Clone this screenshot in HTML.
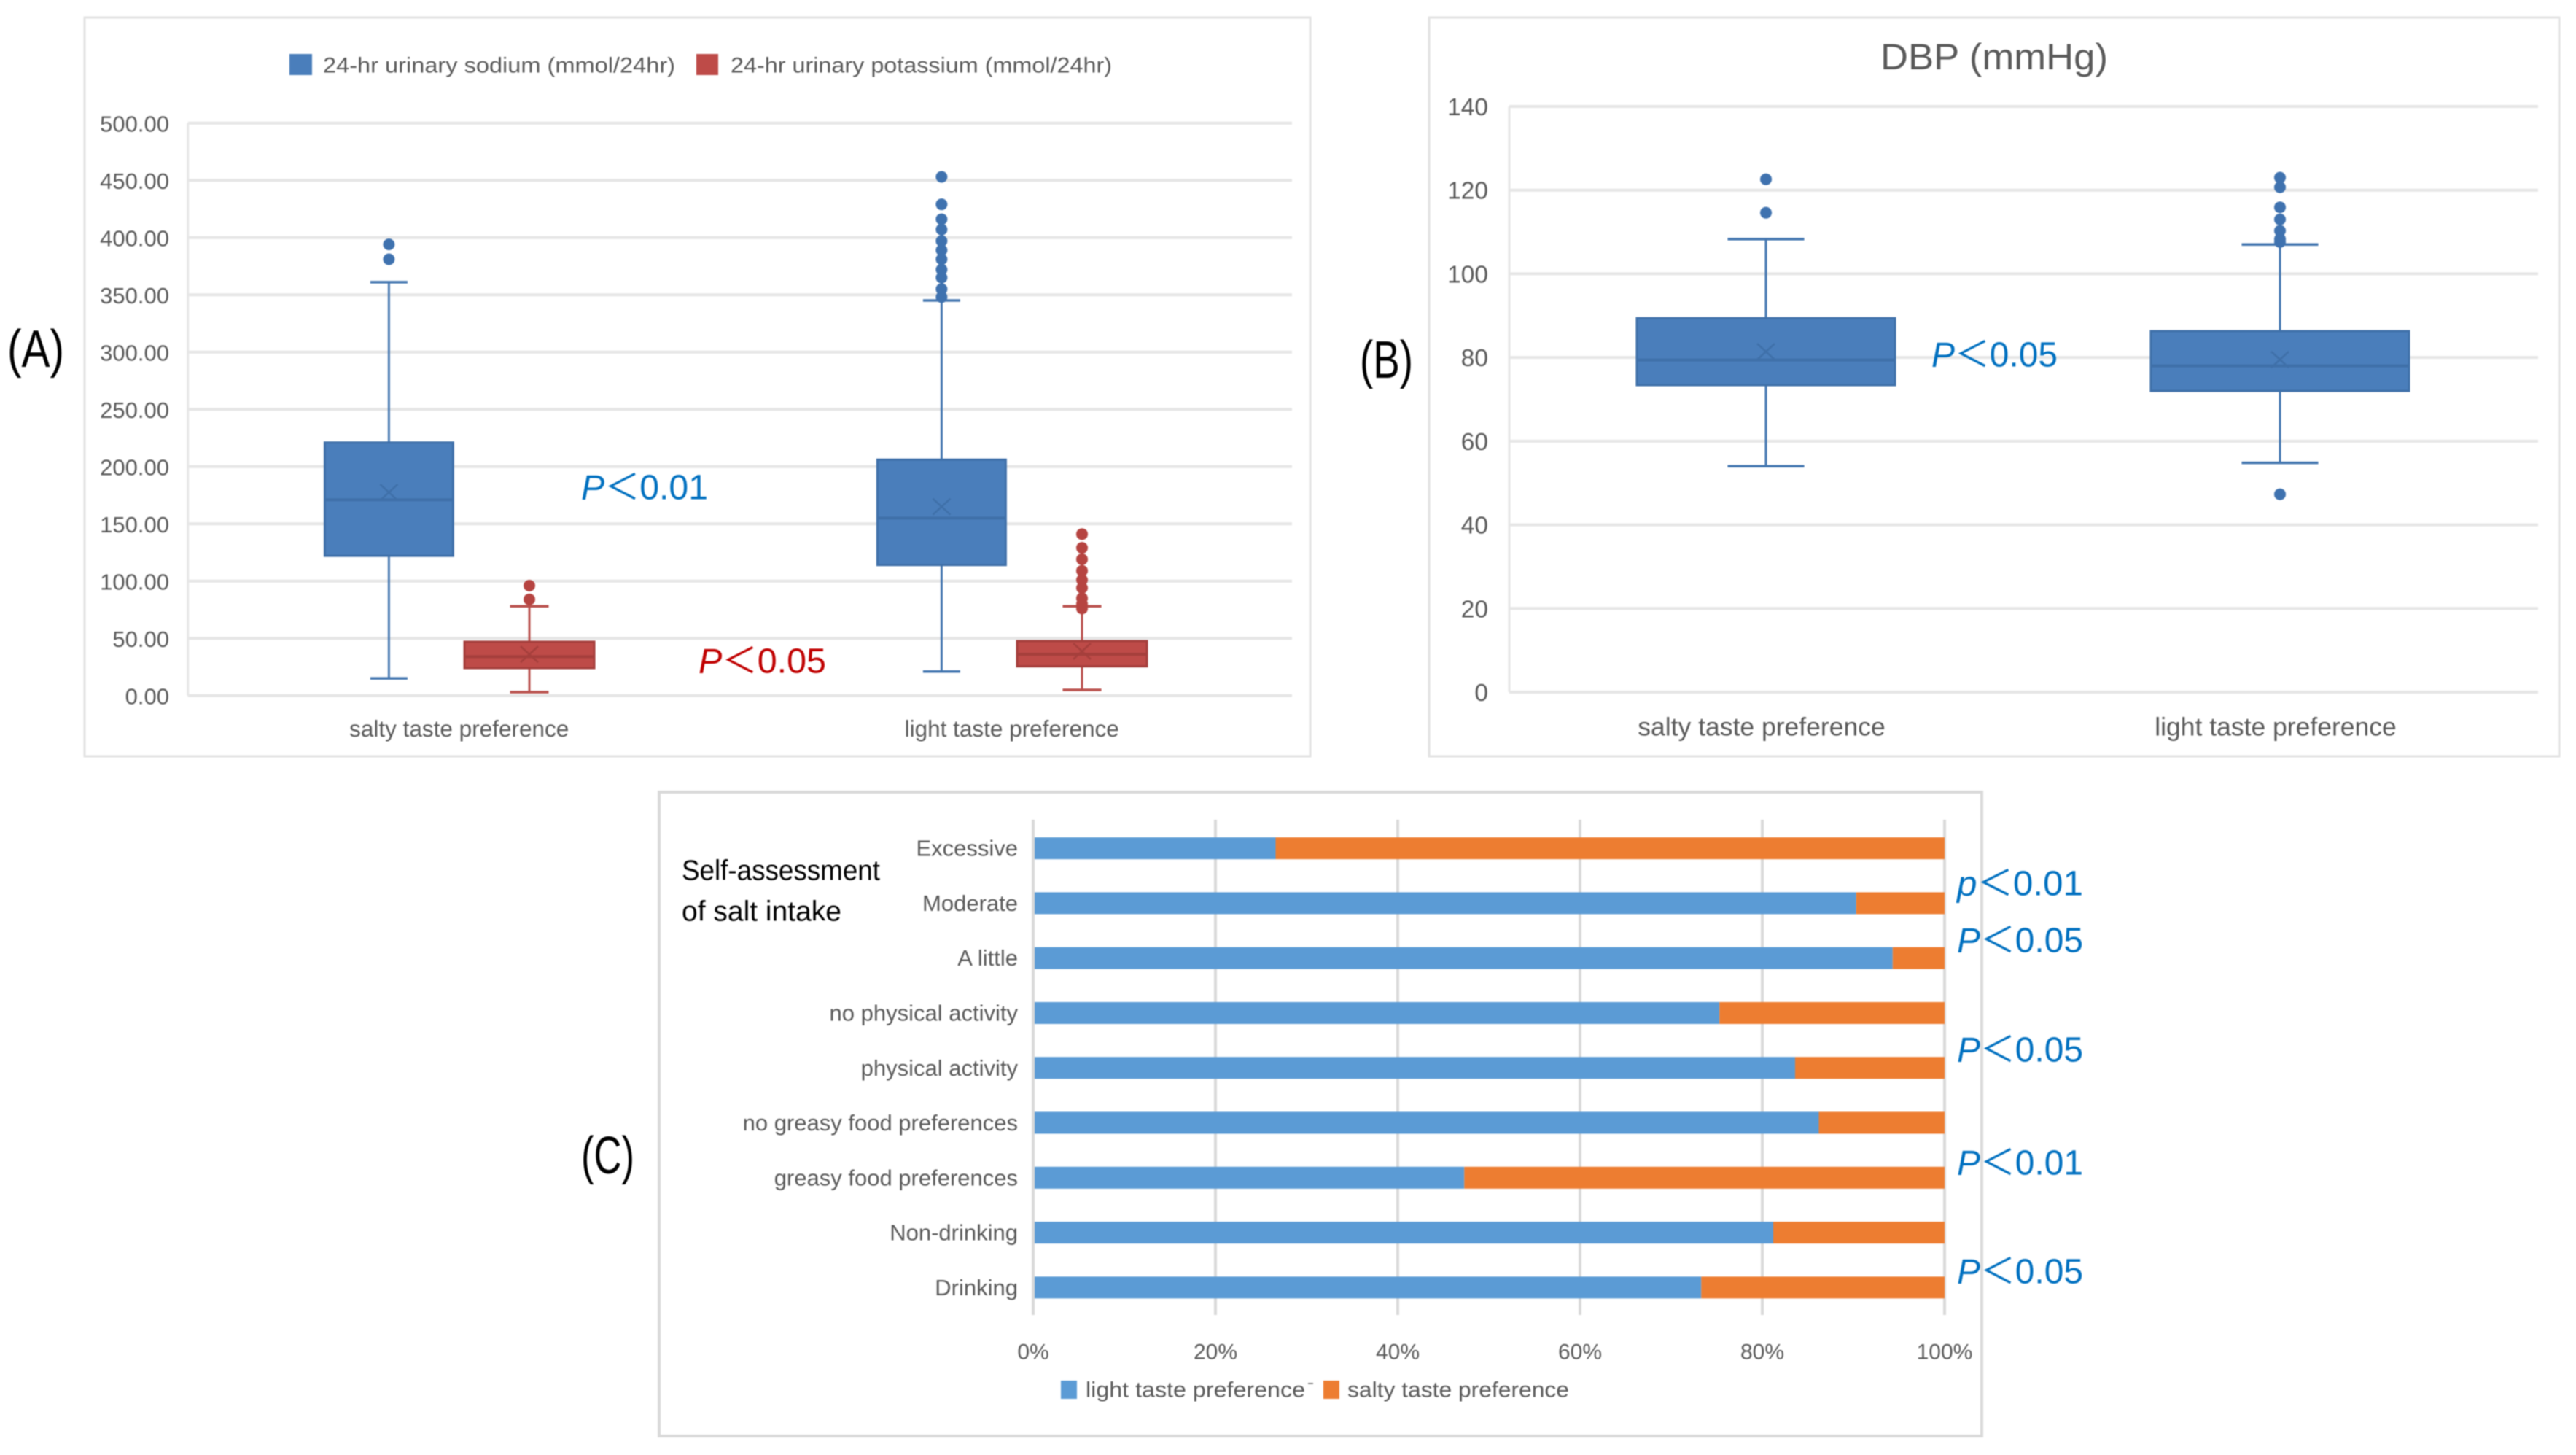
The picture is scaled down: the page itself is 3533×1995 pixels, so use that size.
<!DOCTYPE html>
<html lang="en">
<head>
<meta charset="utf-8">
<title>Taste preference charts</title>
<style>
html,body{margin:0;padding:0;background:#fff;width:3533px;height:1995px;overflow:hidden}
svg{display:block;filter:blur(0.8px)}
text{font-family:"Liberation Sans","Noto Sans CJK SC",sans-serif;fill:#595959}
.p{font-size:48px;dominant-baseline:central}
.pb{fill:#0070C0}
.pr{fill:#C00000}
.pan{font-size:72px;fill:#000;dominant-baseline:central}
.leg{font-size:30px;dominant-baseline:central}
</style>
</head>
<body>
<svg id="figure" xmlns="http://www.w3.org/2000/svg" width="3533" height="1995" viewBox="0 0 3533 1995">
  <rect x="116" y="24" width="1681" height="1013" fill="#fff" stroke="#e2e2e2" stroke-width="3"/>
  <rect x="1960" y="24" width="1550" height="1013" fill="#fff" stroke="#e2e2e2" stroke-width="3"/>
  <rect x="904" y="1086" width="1814" height="883" fill="#fff" stroke="#d9d9d9" stroke-width="4"/>
  <g id="chartA"></g>
  <g id="chartB"></g>
  <g id="chartC"></g>

  <text class="pan" x="10" y="479" textLength="78" lengthAdjust="spacingAndGlyphs">(A)</text>
  <text class="pan" x="1865" y="494" textLength="73" lengthAdjust="spacingAndGlyphs">(B)</text>
  <text class="pan" x="797" y="1585" textLength="73" lengthAdjust="spacingAndGlyphs">(C)</text>

  <rect x="397" y="74" width="31" height="29" fill="#4A7EBB"/>
  <text class="leg" x="443" y="90" textLength="483" lengthAdjust="spacingAndGlyphs">24-hr urinary sodium (mmol/24hr)</text>
  <rect x="955" y="74" width="30" height="29" fill="#BE4B48"/>
  <text class="leg" x="1002" y="90" textLength="523" lengthAdjust="spacingAndGlyphs">24-hr urinary potassium (mmol/24hr)</text>

  <text class="p pb" x="797" y="669" textLength="174" lengthAdjust="spacingAndGlyphs"><tspan font-style="italic">P</tspan>＜0.01</text>
  <text class="p pr" x="958" y="907" textLength="175" lengthAdjust="spacingAndGlyphs"><tspan font-style="italic">P</tspan>＜0.05</text>

  <text x="2579" y="78" font-size="50" dominant-baseline="central" textLength="312" lengthAdjust="spacingAndGlyphs">DBP (mmHg)</text>
  <text class="p pb" x="2649" y="487" textLength="173" lengthAdjust="spacingAndGlyphs"><tspan font-style="italic">P</tspan>＜0.05</text>

  <text x="935" y="1194" font-size="39" dominant-baseline="central" style="fill:#000" textLength="272" lengthAdjust="spacingAndGlyphs">Self-assessment</text>
  <text x="935" y="1250" font-size="39" dominant-baseline="central" style="fill:#000" textLength="219" lengthAdjust="spacingAndGlyphs">of salt intake</text>

  <rect x="1455" y="1893" width="22" height="25" fill="#5B9BD5"/>
  <text class="leg" x="1489" y="1906" textLength="301" lengthAdjust="spacingAndGlyphs">light taste preference</text>
  <rect x="1794" y="1896" width="7" height="2" fill="#8a8a8a"/>
  <rect x="1815" y="1893" width="22" height="25" fill="#ED7D31"/>
  <text class="leg" x="1848" y="1906" textLength="304" lengthAdjust="spacingAndGlyphs">salty taste preference</text>

  <text class="p pb" x="2684" y="1212" textLength="173" lengthAdjust="spacingAndGlyphs"><tspan font-style="italic">p</tspan>＜0.01</text>
  <text class="p pb" x="2684" y="1290" textLength="173" lengthAdjust="spacingAndGlyphs"><tspan font-style="italic">P</tspan>＜0.05</text>
  <text class="p pb" x="2684" y="1440" textLength="173" lengthAdjust="spacingAndGlyphs"><tspan font-style="italic">P</tspan>＜0.05</text>
  <text class="p pb" x="2684" y="1595" textLength="173" lengthAdjust="spacingAndGlyphs"><tspan font-style="italic">P</tspan>＜0.01</text>
  <text class="p pb" x="2684" y="1744" textLength="173" lengthAdjust="spacingAndGlyphs"><tspan font-style="italic">P</tspan>＜0.05</text>
</svg>
<script>
// Chart A data
const categoriesA = ['salty taste preference', 'light taste preference'];
const tickLabelsA = ['0.00','50.00','100.00','150.00','200.00','250.00','300.00','350.00','400.00','450.00','500.00'];
const sodiumLow = [15, 21];
const sodiumQ1 = [122, 114];
const sodiumMedian = [171, 155];
const sodiumMean = [177.5, 165];
const sodiumQ3 = [221, 206];
const sodiumHigh = [361, 345];
const sodiumOutliersSalty = [394, 381];
const sodiumOutliersLight = [453, 429, 416, 407, 397, 389, 381, 372, 365, 355, 348];
const potassiumLow = [3, 4.9];
const potassiumQ1 = [24, 25.5];
const potassiumMedian = [34, 36];
const potassiumMean = [36, 38.7];
const potassiumQ3 = [47, 47.6];
const potassiumHigh = [78, 78];
const potassiumOutliersSalty = [96, 84];
const potassiumOutliersLight = [141, 129, 119, 109, 101, 94, 85, 80, 76];

// Chart B data
const categoriesB = ['salty taste preference', 'light taste preference'];
const tickLabelsB = ['0','20','40','60','80','100','120','140'];
const dbpLow = [54, 54.8];
const dbpQ1 = [73.4, 72];
const dbpMedian = [79.4, 78];
const dbpMean = [81.4, 79.5];
const dbpQ3 = [89.4, 86.3];
const dbpHigh = [108.3, 107];
const dbpOutliersSalty = [122.6, 114.6];
const dbpOutliersLight = [123, 120.7, 115.9, 113, 110.3, 108.3, 107.6, 47.3];

// Chart C data
const categoriesC = ['Excessive','Moderate','A little','no physical activity','physical activity','no greasy food preferences','greasy food preferences','Non-drinking','Drinking'];
const lightShare = [26.6, 90.3, 94.3, 75.3, 83.6, 86.2, 47.3, 81.2, 73.3];
const saltyShare = [73.4, 9.7, 5.7, 24.7, 16.4, 13.8, 52.7, 18.8, 26.7];
const tickLabelsC = ['0%','20%','40%','60%','80%','100%'];

const NS = 'http://www.w3.org/2000/svg';

function mk(parent, tag, attrs, name) {
  const el = document.createElementNS(NS, tag);
  for (const k in attrs) el.setAttribute(k, attrs[k]);
  
  
  parent.appendChild(el);
  return el;
}

function label(parent, x, y, str, size, anchor, name) {
  const el = mk(parent, 'text', {x: x, y: y, 'font-size': size, 'text-anchor': anchor, 'dominant-baseline': 'central'}, name);
  el.textContent = str;
  return el;
}

function drawBox(g, cx, halfW, capW, y, s, colors, name) {
  mk(g, 'line', {x1: cx, x2: cx, y1: y(s.high), y2: y(s.low), stroke: colors.line, 'stroke-width': 3}, name + '-whisker');
  mk(g, 'line', {x1: cx - capW, x2: cx + capW, y1: y(s.high), y2: y(s.high), stroke: colors.line, 'stroke-width': 3.5}, name + '-cap-high');
  mk(g, 'line', {x1: cx - capW, x2: cx + capW, y1: y(s.low), y2: y(s.low), stroke: colors.line, 'stroke-width': 3.5}, name + '-cap-low');
  mk(g, 'rect', {x: cx - halfW, y: y(s.q3), width: 2 * halfW, height: y(s.q1) - y(s.q3), fill: colors.fill, stroke: colors.dark, 'stroke-width': 3}, name + '-box');
  mk(g, 'line', {x1: cx - halfW, x2: cx + halfW, y1: y(s.median), y2: y(s.median), stroke: colors.dark, 'stroke-width': 4}, name + '-median');
  const my = y(s.mean);
  mk(g, 'line', {x1: cx - 12, x2: cx + 12, y1: my - 11, y2: my + 11, stroke: colors.dark, 'stroke-width': 2.6}, name + '-mean-a');
  mk(g, 'line', {x1: cx - 12, x2: cx + 12, y1: my + 11, y2: my - 11, stroke: colors.dark, 'stroke-width': 2.6}, name + '-mean-b');
  s.outliers.forEach(function (v) {
    mk(g, 'circle', {cx: cx, cy: y(v), r: 8, fill: colors.dot}, name + '-outlier');
  });
}

const blueBox = {fill: '#4A7EBB', dark: '#3F70A9', line: '#4577B0', dot: '#3F72AF'};
const redBox = {fill: '#BE4B48', dark: '#A53F3C', line: '#B9504D', dot: '#B64441'};

// Chart A
(function () {
  const g = document.getElementById('chartA');
  const y = function (v) { return 953.7 - v * 1.57; };
  const band = function (i) { return 629.7 + 758 * i; };
  tickLabelsA.forEach(function (t) {
    const v = parseFloat(t);
    mk(g, 'line', {x1: 257.7, x2: 1772, y1: y(v), y2: y(v), stroke: '#e6e6e6', 'stroke-width': 4}, 'gridline-a');
    label(g, 232, y(v) + 1.5, t, 31, 'end', 'y-tick-label-a');
  });
  mk(g, 'line', {x1: 257.7, x2: 257.7, y1: y(500), y2: y(0), stroke: '#e6e6e6', 'stroke-width': 3}, 'y-axis-a');
  categoriesA.forEach(function (c, i) {
    label(g, band(i), 999, c, 31.5, 'middle', 'x-category-label-a');
    drawBox(g, band(i) - 96.3, 88, 25.5, y, {
      low: sodiumLow[i], q1: sodiumQ1[i], median: sodiumMedian[i], mean: sodiumMean[i], q3: sodiumQ3[i], high: sodiumHigh[i],
      outliers: i === 0 ? sodiumOutliersSalty : sodiumOutliersLight
    }, blueBox, 'sodium-' + i);
    drawBox(g, band(i) + 96.3, 89, 26.5, y, {
      low: potassiumLow[i], q1: potassiumQ1[i], median: potassiumMedian[i], mean: potassiumMean[i], q3: potassiumQ3[i], high: potassiumHigh[i],
      outliers: i === 0 ? potassiumOutliersSalty : potassiumOutliersLight
    }, redBox, 'potassium-' + i);
  });
})();

// Chart B
(function () {
  const g = document.getElementById('chartB');
  const y = function (v) { return 949 - v * (803 / 140); };
  const band = function (i) { return 2422 + 705 * i; };
  tickLabelsB.forEach(function (t) {
    const v = parseFloat(t);
    mk(g, 'line', {x1: 2070, x2: 3481, y1: y(v), y2: y(v), stroke: '#e6e6e6', 'stroke-width': 4}, 'gridline-b');
    label(g, 2041, y(v) + 1.5, t, 33.5, 'end', 'y-tick-label-b');
  });
  mk(g, 'line', {x1: 2070, x2: 2070, y1: y(140), y2: y(0), stroke: '#e6e6e6', 'stroke-width': 3}, 'y-axis-b');
  categoriesB.forEach(function (c, i) {
    label(g, band(i) - 6, 996.5, c, 35.5, 'middle', 'x-category-label-b');
    drawBox(g, band(i), 177, 52.5, y, {
      low: dbpLow[i], q1: dbpQ1[i], median: dbpMedian[i], mean: dbpMean[i], q3: dbpQ3[i], high: dbpHigh[i],
      outliers: i === 0 ? dbpOutliersSalty : dbpOutliersLight
    }, blueBox, 'dbp-' + i);
  });
})();

// Chart C
(function () {
  const g = document.getElementById('chartC');
  const x = function (p) { return 1417 + p / 100 * 1250; };
  const top = 1125.5, bottom = 1803;
  const step = (bottom - top) / categoriesC.length;
  const band = function (i) { return top + step * (i + 0.5); };
  tickLabelsC.forEach(function (t) {
    const p = parseFloat(t);
    mk(g, 'line', {x1: x(p), x2: x(p), y1: 1124, y2: 1803, stroke: '#d9d9d9', 'stroke-width': 4}, 'gridline-c');
    label(g, x(p), 1854, t, 30, 'middle', 'x-tick-label-c');
  });
  categoriesC.forEach(function (c, i) {
    const total = lightShare[i] + saltyShare[i];
    const lightEnd = lightShare[i] / total * 100;
    mk(g, 'rect', {x: x(0) + 2, y: band(i) - 15, width: x(lightEnd) - x(0) - 2, height: 30, fill: '#5B9BD5'}, 'bar-light');
    mk(g, 'rect', {x: x(lightEnd), y: band(i) - 15, width: x(100) - x(lightEnd), height: 30, fill: '#ED7D31'}, 'bar-salty');
    label(g, 1396, band(i), c, 31, 'end', 'y-category-label-c');
  });
})();
</script>
</body>
</html>
